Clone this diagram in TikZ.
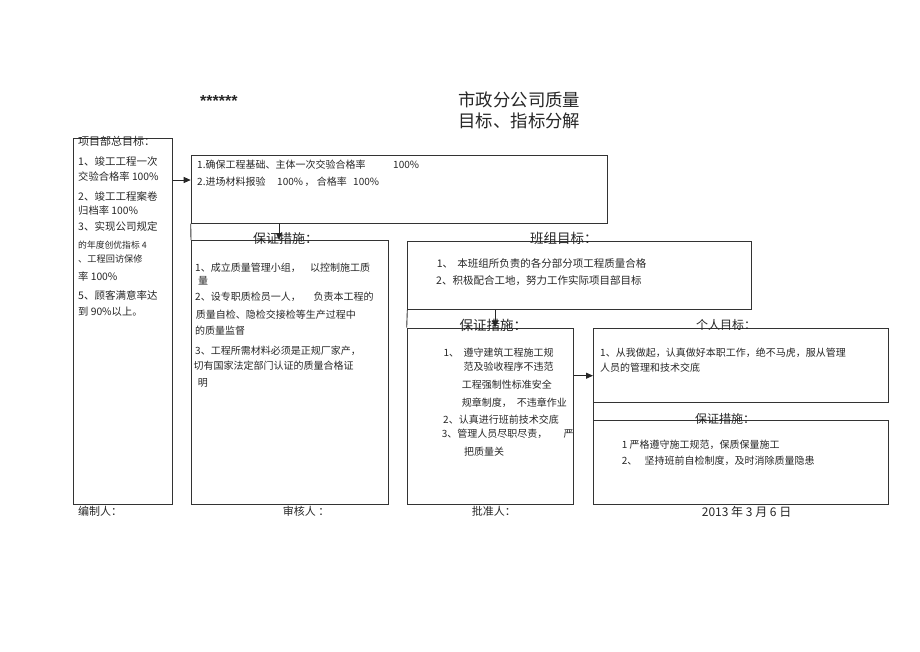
\documentclass[tikz,border=0pt]{standalone}
\usepackage{fontspec}
\setmainfont{Noto Sans CJK SC}
\newfontfamily\latfont{Liberation Sans}
\usetikzlibrary{arrows.meta}
\newcommand\fsz[1]{\fontsize{#1pt}{#1pt}\selectfont}
\tikzset{
  box/.style={draw=black!80, line width=0.9pt, anchor=north west, inner sep=0pt},
  txt/.style={anchor=west, inner sep=0pt, text=black!85, font=\fsz{10}},
  ttl/.style={anchor=west, inner sep=0pt, text=black!85},
  arr/.style={draw=black!85, line width=0.9pt, -{Triangle[length=7pt,width=6pt]}},
  edge/.style={draw=black!80, line width=0.9pt}
}
\begin{document}
\begin{tikzpicture}[x=1pt,y=-1pt]
\useasboundingbox (0,0) rectangle (920,651);
% boxes
\node[box, minimum width=98.4pt, minimum height=366.6pt] (L) at (73.3,137.7) {};
\node[box, minimum width=416pt, minimum height=67.7pt] (T) at (190.7,155) {};
\node[box, minimum width=197.3pt, minimum height=264.3pt] (B1) at (191,240) {};
\node[box, minimum width=343.4pt, minimum height=68.3pt] (BZ) at (407.3,241) {};
\node[box, minimum width=166.3pt, minimum height=176.6pt] (M) at (406.7,327.7) {};
\node[box, minimum width=294.7pt, minimum height=74pt] (G) at (593,327.7) {};
\node[box, minimum width=294.7pt, minimum height=84.3pt] (R) at (593,420) {};
% connecting edges
\draw[edge] (T.south west) -- (B1.north west);
\draw[edge] (BZ.south west) -- (M.north west);
\draw[edge] (G.south west) -- (R.north west);
% arrows
\draw[arr] (L.east |- 0,180) -- (T.west |- 0,180);
\draw[arr] (T.south -| 279,0) -- (B1.north -| 279,0);
\draw[arr] (BZ.south -| 495,0) -- (M.north -| 495,0);
\draw[arr] (M.east |- 0,375.7) -- (G.west |- 0,375.7);
% headings
\node[ttl, font=\latfont\bfseries\fsz{16}] (stars) at (200,100.5) {******};
\node[ttl, font=\fsz{17.4}] (h1) at (458.3,100) {市政分公司质量};
\node[ttl, font=\fsz{17.4}] (h2) at (458.3,121) {目标、指标分解};
% left box
\node[txt, font=\fsz{11}] (l0) at (78,141.7) {项目部总目标：};
\node[txt, font=\fsz{10.5}] (l1) at (78,161.7) {1、竣工工程一次};
\node[txt, font=\fsz{10.3}] (l2) at (78,176.7) {交验合格率 100\%};
\node[txt, font=\fsz{10.5}] (l3) at (78,196.7) {2、竣工工程案卷};
\node[txt, font=\fsz{10.3}] (l4) at (78,210.5) {归档率 100\%};
\node[txt, font=\fsz{10.5}] (l5) at (78,226.7) {3、实现公司规定};
\node[txt, font=\fsz{8.8}] (l6) at (78,245) {的年度创优指标 4};
\node[txt, font=\fsz{9.2}] (l7) at (78,259) {、工程回访保修};
\node[txt, font=\fsz{10.3}] (l8) at (78,276.7) {率 100\%};
\node[txt, font=\fsz{10.5}] (l9) at (78,295) {5、顾客满意率达};
\node[txt, font=\fsz{10.3}] (l10) at (78,311.7) {到 90\%以上。};
% top box
\node[txt] (t1) at (197,165) {\makebox[196pt][l]{1.确保工程基础、主体一次交验合格率}100\%};
\node[txt] (t2) at (197,181.7) {\makebox[80pt][l]{2.进场材料报验}\makebox[39.7pt][l]{100\%\,，}\makebox[36.3pt][l]{合格率}100\%};
% left measures box
\node[ttl, font=\fsz{13}] (b1h) at (253,238.3) {保证措施：};
\node[txt] (b11) at (195,267.7) {\makebox[115pt][l]{1、成立质量管理小组，}以控制施工质};
\node[txt] (b12) at (198,281) {量};
\node[txt] (b13) at (195,296.7) {\makebox[118.3pt][l]{2、设专职质检员一人，}负责本工程的};
\node[txt] (b14) at (195.7,315) {质量自检、隐检交接检等生产过程中};
\node[txt] (b15) at (195,331) {的质量监督};
\node[txt] (b16) at (195,351) {3、工程所需材料必须是正规厂家产，};
\node[txt] (b17) at (193.3,365.7) {切有国家法定部门认证的质量合格证};
\node[txt] (b18) at (197.7,383.3) {明};
% team goal box
\node[ttl, font=\fsz{13.5}] (bzh) at (530,238) {班组目标：};
\node[txt, font=\fsz{10.5}] (bz1) at (436.7,263.3) {\makebox[20.6pt][l]{1、}本班组所负责的各分部分项工程质量合格};
\node[txt, font=\fsz{10.5}] (bz2) at (436,281) {2、积极配合工地，努力工作实际项目部目标};
% middle measures box
\node[ttl, font=\fsz{13.5}] (mh) at (459.3,325) {保证措施：};
\node[txt] (m1) at (443.3,352.7) {\makebox[20pt][l]{1、}遵守建筑工程施工规};
\node[txt] (m2) at (463.3,366.7) {范及验收程序不违范};
\node[txt] (m3) at (461.7,384.3) {工程强制性标准安全};
\node[txt] (m4) at (461.7,402.3) {\makebox[55pt][l]{规章制度，}不违章作业};
\node[txt] (m5) at (443,420) {2、认真进行班前技术交底};
\node[txt] (m6) at (441.7,434.3) {\makebox[121.6pt][l]{3、管理人员尽职尽责，}严};
\node[txt] (m7) at (464,451.7) {把质量关};
% personal goal box
\node[ttl, font=\fsz{12}] (gh) at (696,325) {个人目标：};
\node[txt] (g1) at (600,352.7) {1、从我做起，认真做好本职工作，绝不马虎，服从管理};
\node[txt] (g2) at (600,367.3) {人员的管理和技术交底};
% right measures box
\node[ttl, font=\fsz{12}] (rh) at (695,419) {保证措施：};
\node[txt] (r1) at (621.7,444.5) {1 严格遵守施工规范，保质保量施工};
\node[txt] (r2) at (621.7,461) {\makebox[22.6pt][l]{2、}坚持班前自检制度，及时消除质量隐患};
% footer
\node[txt, font=\fsz{11}] (f1) at (78,511.7) {编制人：};
\node[txt, font=\fsz{11}] (f2) at (282.7,511.7) {审核人 ：};
\node[txt, font=\fsz{11}] (f3) at (471.7,511.7) {批准人：};
\node[txt, font=\fsz{12}] (f4) at (701.7,511.7) {2013 年 3 月 6 日};
\end{tikzpicture}
\end{document}
